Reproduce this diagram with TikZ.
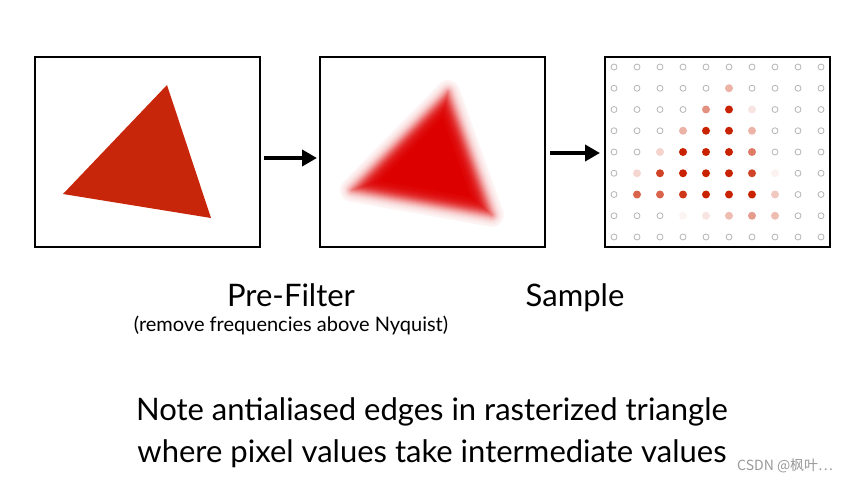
\documentclass[tikz,border=0pt]{standalone}
\usepackage{fontspec}
\setmainfont{Lato}
\newfontfamily\cjk{Noto Sans CJK SC}
\usetikzlibrary{arrows.meta,calc}
\definecolor{tricol}{HTML}{C8260A}
\definecolor{blurcol}{HTML}{DD0000}
\definecolor{dotcol}{HTML}{C82200}
\definecolor{emptycol}{HTML}{B4B4B4}
\tikzset{
  panel/.style={draw, line width=2pt, minimum width=225pt, minimum height=190pt, inner sep=0pt},
  flow/.style={-{Triangle[length=15pt,width=16pt]}, line width=4pt},
  caption/.style={anchor=base, inner sep=0pt, font=\fontsize{31}{37}\selectfont},
  smallcap/.style={anchor=base, inner sep=0pt, font=\fontsize{20}{24}\selectfont}
}
\begin{document}
\begin{tikzpicture}[x=1pt, y=-1pt]
\useasboundingbox (0,0) rectangle (850,481);

% three panels
\node[panel] (orig) at (147.5,152) {};
\node[panel] (blur) at (432.5,152) {};
\node[panel] (grid) at (717.5,152) {};

% original triangle
\fill[tricol] (167,85) -- (63,194) -- (211,218) -- cycle;

% pre-filtered triangle: outer bands as strokes, inner bands as insets about the incentre
\coordinate (p1) at (448,92);
\coordinate (p2) at (352,190);
\coordinate (p3) at (492,215);
\coordinate (ic) at (432.1,164.4);
\foreach \k in {12,11,...,1} {
  \pgfmathsetmacro\p{100/(1+exp((\k-0.5)/3.5))}
  \draw[blurcol!\p, line width=2*\k pt, line join=round] (p1) -- (p2) -- (p3) -- cycle;
}
\foreach \d in {0,...,13} {
  \pgfmathsetmacro\p{min(100,100/(1+exp(-(\d+0.5)/3.5)))}
  \pgfmathsetmacro\s{1-\d/39.3}
  \fill[blurcol!\p] ($(ic)!\s!(p1)$) -- ($(ic)!\s!(p2)$) -- ($(ic)!\s!(p3)$) -- cycle;
}
\fill[blurcol] ($(ic)!0.64!(p1)$) -- ($(ic)!0.64!(p2)$) -- ($(ic)!0.64!(p3)$) -- cycle;

% samples
\foreach [count=\r from 0] \vals in {
  {0,0,0,0,0,0,0,0,0,0},
  {0,0,0,0,0,35,0,0,0,0},
  {0,0,0,0,50,100,12,0,0,0},
  {0,0,0,35,100,100,35,0,0,0},
  {0,0,20,100,100,100,60,0,0,0},
  {0,18,85,100,100,100,85,6,0,0},
  {0,70,70,90,100,100,100,25,0,0},
  {0,0,0,5,12,30,45,30,0,0},
  {0,0,0,0,0,0,0,0,0,0}} {
  \foreach [count=\c from 0] \v in \vals {
    \ifnum\v=0
      \draw[emptycol, line width=0.8pt] (614+23*\c, 67+21.25*\r) circle[radius=3pt];
    \else
      \fill[dotcol!\v] (614+23*\c, 67+21.25*\r) circle[radius=4pt];
    \fi
  }
}

% arrows
\draw[flow] ([shift={(3,6)}]orig.east) -- ([shift={(-2,6)}]blur.west);
\draw[flow] ([shift={(4,1)}]blur.east) -- ([shift={(-4,1)}]grid.west);

% labels
\node[caption] (prefilter) at (291,306) {Pre-Filter};
\node[caption] (sample) at (575,306) {Sample};
\node[smallcap] (nyquist) at (291,331) {(remove frequencies above Nyquist)};
\node[caption] (note1) at (432,420) {Note antialiased edges in rasterized triangle};
\node[caption] (note2) at (432,462) {where pixel values take intermediate values};
\node[anchor=base west, inner sep=0pt, text=gray!80, font=\cjk\fontsize{14}{16}\selectfont] (mark) at (737,470) {CSDN @枫叶…};
\end{tikzpicture}
\end{document}
